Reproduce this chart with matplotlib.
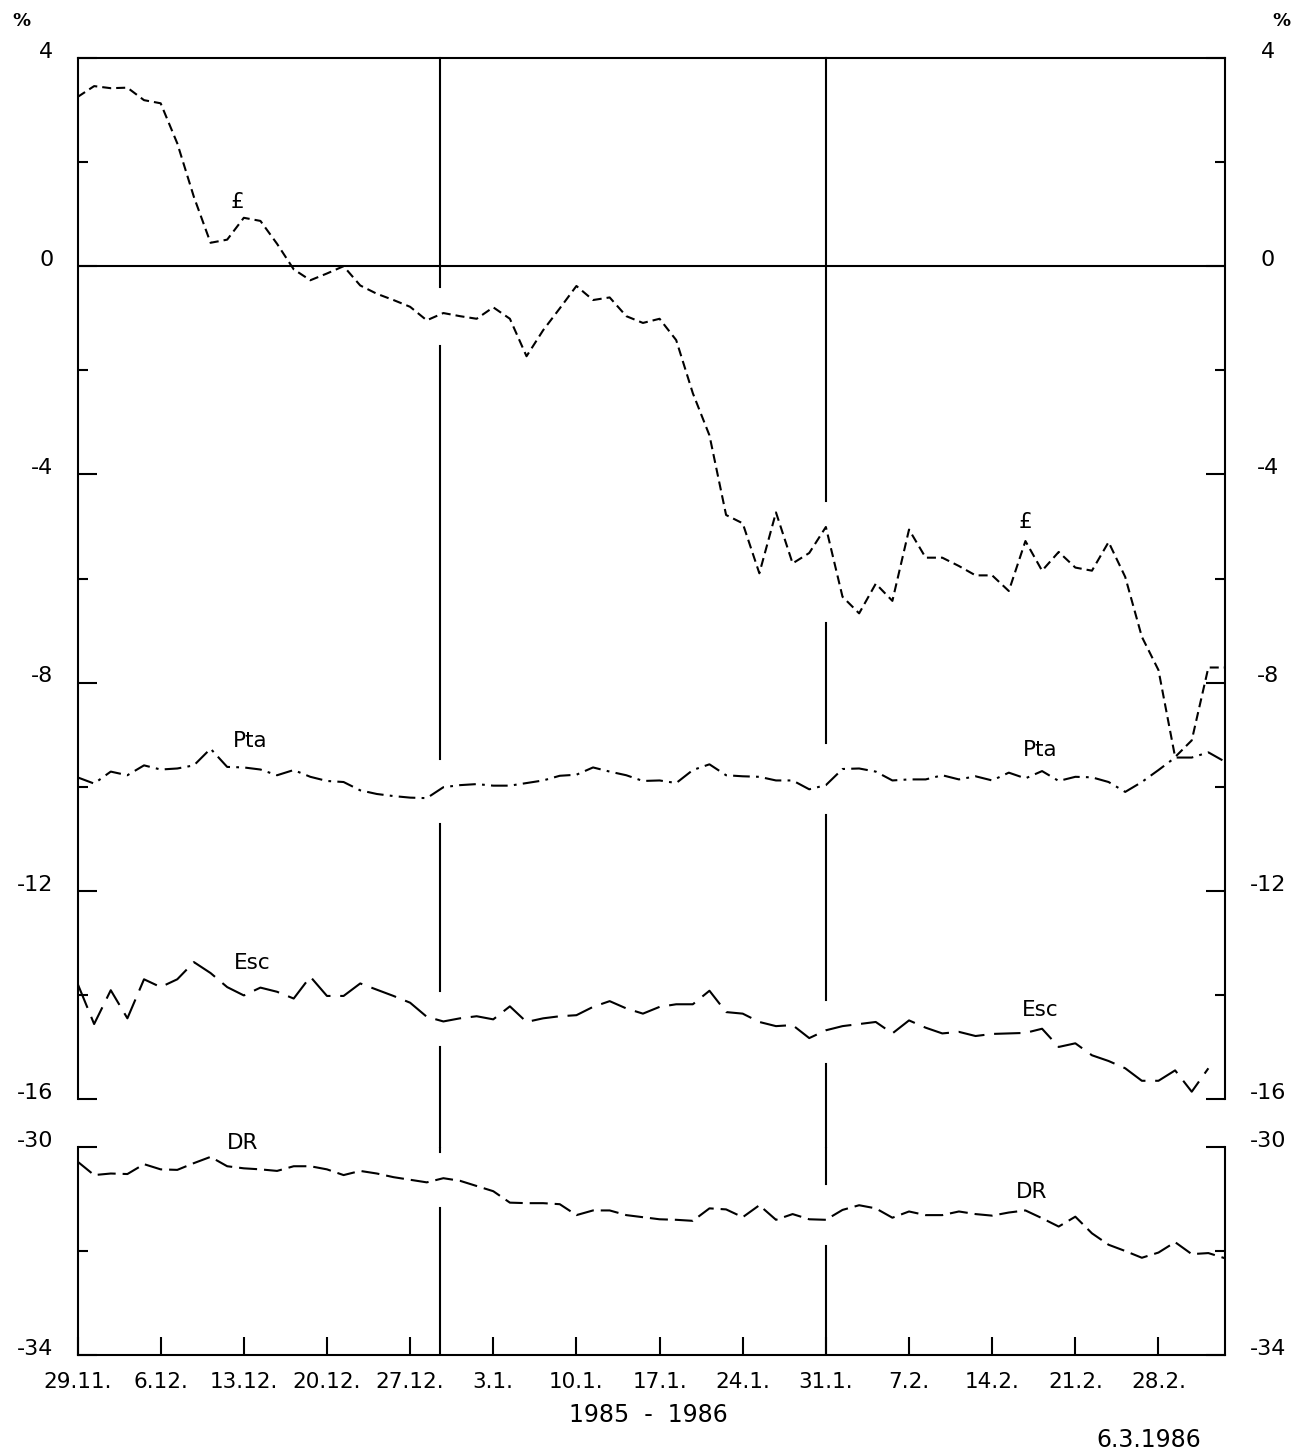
import numpy as np
import matplotlib
matplotlib.use('Agg')
import matplotlib.pyplot as plt
from matplotlib.transforms import offset_copy

# Daily values (business days 29.11.1985 - 6.3.1986), % deviation
gbp = [3.25, 3.46, 3.42, 3.43, 3.19, 3.13, 2.36, 1.33, 0.45, 0.51,
       0.93, 0.87, 0.43, -0.06, -0.27, -0.14, 0.0, -0.37, -0.53, -0.65,
       -0.78, -1.04, -0.90, -0.96, -1.01, -0.79, -1.01, -1.73, -1.23, -0.81,
       -0.38, -0.65, -0.60, -0.96, -1.09, -1.01, -1.42, -2.44, -3.25, -4.78,
       -4.94, -5.90, -4.73, -5.71, -5.51, -5.01, -6.35, -6.67, -6.10, -6.43,
       -5.06, -5.60, -5.60, -5.76, -5.94, -5.94, -6.24, -5.28, -5.85, -5.49,
       -5.79, -5.85, -5.30, -5.97, -7.12, -7.76, -9.43, -9.11, -7.71, -7.71]
pta = [-9.82, -9.94, -9.71, -9.78, -9.59, -9.67, -9.65, -9.59, -9.27, -9.62,
       -9.63, -9.67, -9.78, -9.68, -9.81, -9.89, -9.91, -10.07, -10.14, -10.18,
       -10.21, -10.22, -10.01, -9.97, -9.95, -9.98, -9.98, -9.93, -9.88, -9.79,
       -9.77, -9.63, -9.71, -9.78, -9.89, -9.88, -9.93, -9.68, -9.57, -9.78,
       -9.80, -9.81, -9.88, -9.88, -10.05, -9.97, -9.66, -9.65, -9.71, -9.88,
       -9.86, -9.86, -9.78, -9.86, -9.80, -9.88, -9.73, -9.84, -9.70, -9.89,
       -9.81, -9.82, -9.91, -10.10, -9.91, -9.68, -9.44, -9.44, -9.34, -9.52]
esc = [-13.78, -14.56, -13.91, -14.45, -13.70, -13.85, -13.70, -13.37, -13.58, -13.85,
       -14.01, -13.86, -13.94, -14.07, -13.65, -14.02, -14.02, -13.78, -13.90, -14.02,
       -14.15, -14.42, -14.51, -14.45, -14.41, -14.47, -14.22, -14.52, -14.45, -14.41,
       -14.39, -14.23, -14.12, -14.26, -14.36, -14.23, -14.18, -14.18, -13.92, -14.33,
       -14.36, -14.52, -14.60, -14.58, -14.83, -14.68, -14.60, -14.56, -14.52, -14.74,
       -14.49, -14.63, -14.74, -14.71, -14.79, -14.75, -14.74, -14.73, -14.65, -15.00,
       -14.93, -15.16, -15.27, -15.41, -15.65, -15.65, -15.45, -15.86, -15.41, np.nan]
dr = [-30.28, -30.54, -30.51, -30.52, -30.33, -30.43, -30.44, -30.31, -30.19, -30.37,
      -30.41, -30.43, -30.46, -30.37, -30.37, -30.43, -30.54, -30.46, -30.51, -30.58,
      -30.63, -30.68, -30.60, -30.65, -30.75, -30.85, -31.07, -31.08, -31.08, -31.10,
      -31.31, -31.22, -31.22, -31.31, -31.35, -31.39, -31.40, -31.42, -31.18, -31.20,
      -31.35, -31.12, -31.40, -31.29, -31.39, -31.40, -31.21, -31.12, -31.18, -31.36,
      -31.24, -31.31, -31.31, -31.24, -31.29, -31.32, -31.26, -31.22, -31.37, -31.53,
      -31.34, -31.66, -31.88, -32.00, -32.13, -32.03, -31.83, -32.06, -32.04, -32.14]

tick_labels = ['29.11.', '6.12.', '13.12.', '20.12.', '27.12.', '3.1.', '10.1.',
               '17.1.', '24.1.', '31.1.', '7.2.', '14.2.', '21.2.', '28.2.']
days_per_tick = 5
month_marks = [21.8, 45]          # 31.12. / 31.1.

top_major = [4, 0, -4, -8, -12, -16]
top_minor = [2, -2, -6, -10, -14]
bot_major = [-30, -34]
bot_minor = [-32]

# series label positions (x index, y value)
top_labels = [('£', 9.6, 1.23), ('£', 57.0, -4.92),
              ('Pta', 10.4, -9.13), ('Pta', 57.9, -9.30),
              ('Esc', 10.5, -13.39), ('Esc', 57.9, -14.29)]
bot_labels = [('DR', 9.95, -29.92), ('DR', 57.4, -30.87)]

plt.rcParams['font.family'] = 'DejaVu Sans'
plt.rcParams['lines.scale_dashes'] = False

W, H = 1294, 1453
fig = plt.figure(figsize=(W / 100, H / 100), dpi=100)

xl, xr = 77.5, 1225
ax = fig.add_axes([xl / W, 1 - 1099 / H, (xr - xl) / W, (1099 - 58) / H])
bx = fig.add_axes([xl / W, 1 - 1355 / H, (xr - xl) / W, (1355 - 1147) / H])

idx = np.arange(len(gbp))
gbp, pta, esc, dr = map(np.array, (gbp, pta, esc, dr))
lw = 1.5

ax.plot(idx, gbp, color='black', lw=lw, dashes=(6.5, 3.6))
ax.plot(idx, pta, color='black', lw=lw, dashes=(12, 4.5, 2, 4.5))
ax.plot(idx, esc, color='black', lw=lw, dashes=(19, 7))
bx.plot(idx, dr, color='black', lw=lw, dashes=(13, 5))

ax.axhline(0, color='black', lw=1.5)


def vline_segments(xv, lo, hi, series, margin=0.5):
    # vertical month line, broken where a curve passes
    gaps = []
    for s in series:
        near = s[np.abs(idx - xv) <= 1.21]
        near = near[~np.isnan(near)]
        if len(near):
            gaps.append((near.min() - margin, near.max() + margin))
    gaps.sort()
    segs = []
    cur = lo
    for g0, g1 in gaps:
        if g0 > cur:
            segs.append((cur, min(g0, hi)))
        cur = max(cur, g1)
    if cur < hi:
        segs.append((cur, hi))
    return segs


gap_bottom = 4 - (1147 - 58) / ((1099 - 58) / 20.0)
for xv in month_marks:
    for y0, y1 in vline_segments(xv, gap_bottom, 4, [gbp, pta, esc]):
        ax.plot([xv, xv], [y0, y1], color='black', lw=1.5, clip_on=False)
    for y0, y1 in vline_segments(xv, -34, -30, [dr]):
        bx.plot([xv, xv], [y0, y1], color='black', lw=1.5)

for a, lo, hi, major, minor in [(ax, -16, 4, top_major, top_minor),
                                (bx, -34, -30, bot_major, bot_minor)]:
    a.set_xlim(0, len(idx) - 1)
    a.set_ylim(lo, hi)
    a.set_yticks(major)
    a.set_yticks(minor, minor=True)
    a.tick_params(axis='y', which='major', direction='in', length=14,
                  width=1.5, left=True, right=True,
                  labelleft=False, labelright=False)
    a.tick_params(axis='y', which='minor', direction='in', length=7,
                  width=1.5, left=True, right=True)
    for sp in a.spines.values():
        sp.set_linewidth(1.5)
    a.set_facecolor('none')
    # y labels on both sides, slightly above the tick
    trans = offset_copy(a.get_yaxis_transform(), fig=fig, y=4.5, units='points')
    for v in major:
        a.text(-0.021, v, '%d' % v, transform=trans,
               ha='right', va='center', fontsize=16)
        a.text(1.0375, v, '%d' % v, transform=trans,
               ha='center', va='center', fontsize=16)

ax.spines['bottom'].set_visible(False)
ax.set_xticks([])
bx.spines['top'].set_visible(False)

bx.set_xticks(np.arange(len(tick_labels)) * days_per_tick)
bx.set_xticklabels(tick_labels, fontsize=15.5)
bx.tick_params(axis='x', direction='in', length=13, width=1.5, pad=12)

for txt, x, y in top_labels:
    ax.text(x, y, txt, ha='center', va='center', fontsize=15.5)
for txt, x, y in bot_labels:
    bx.text(x, y, txt, ha='center', va='center', fontsize=15.5)

fig.text(21 / W, 1 - 21 / H, '%', ha='center', va='center', fontsize=13, fontweight='bold')
fig.text(1281 / W, 1 - 21 / H, '%', ha='center', va='center', fontsize=13, fontweight='bold')
fig.text(648 / W, 1 - 1415 / H, '1985  -  1986', ha='center', va='center', fontsize=17)
fig.text(1149 / W, 1 - 1440 / H, '6.3.1986', ha='center', va='center', fontsize=17)

fig.savefig('out.png', dpi=100, facecolor='white')
